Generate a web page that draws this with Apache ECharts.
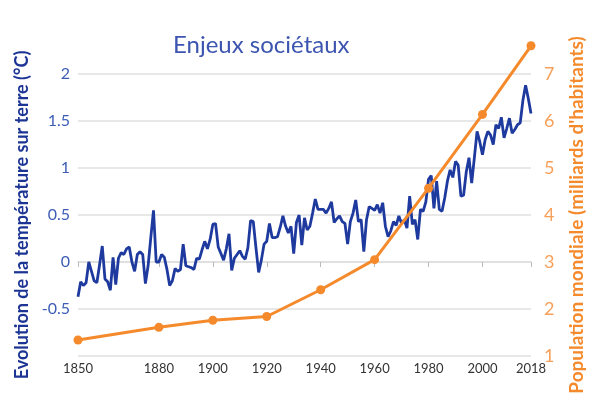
<!DOCTYPE html>
<html>
<head>
<meta charset="utf-8">
<script src="https://cdn.jsdelivr.net/npm/echarts@6/dist/echarts.min.js"></script>
<style>html,body{margin:0;padding:0;background:#fff}#c{width:600px;height:400px}</style>
</head>
<body>
<div id="c"></div>
<script>
const tempYears = [];
for (let y = 1850; y <= 2018; y++) tempYears.push(y);
const tempValues = [
  -0.37,-0.21,-0.25,-0.22,0.00,-0.10,-0.20,-0.22,-0.03,0.17,
  -0.18,-0.21,-0.30,0.05,-0.24,0.04,0.10,0.08,0.14,0.16,
  0.00,-0.10,0.08,0.11,0.08,-0.23,-0.04,0.26,0.55,0.00,
  0.00,0.08,0.05,-0.08,-0.25,-0.20,-0.07,-0.10,-0.08,0.19,
  -0.04,-0.05,-0.06,-0.08,0.04,0.03,0.13,0.22,0.14,0.24,
  0.40,0.41,0.16,0.09,0.02,0.14,0.30,-0.09,0.04,0.08,
  0.12,0.06,0.03,0.15,0.44,0.43,0.15,-0.11,0.02,0.19,
  0.22,0.41,0.26,0.26,0.27,0.37,0.49,0.38,0.31,0.38,
  0.09,0.42,0.50,0.18,0.47,0.34,0.38,0.52,0.67,0.56,
  0.56,0.56,0.52,0.57,0.64,0.42,0.46,0.49,0.43,0.41,
  0.19,0.43,0.52,0.66,0.43,0.45,0.11,0.45,0.59,0.57,
  0.55,0.61,0.52,0.63,0.38,0.27,0.33,0.43,0.39,0.49,
  0.41,0.45,0.36,0.70,0.40,0.45,0.24,0.56,0.54,0.64,
  0.88,0.92,0.57,0.86,0.56,0.54,0.68,0.86,0.98,0.90,
  1.07,1.03,0.70,0.71,0.96,1.11,0.84,1.11,1.39,1.28,
  1.14,1.30,1.39,1.35,1.25,1.46,1.42,1.54,1.32,1.42,
  1.53,1.37,1.41,1.46,1.48,1.72,1.88,1.74,1.58
];
const popYears = [1850, 1880, 1900, 1920, 1940, 1960, 1980, 2000, 2018];
const popValues = [1.34, 1.61, 1.76, 1.84, 2.41, 3.05, 4.57, 6.14, 7.6];
const xTickLabels = [1850, 1880, 1900, 1920, 1940, 1960, 1980, 2000, 2018];

const chart = echarts.init(document.getElementById('c'));
chart.setOption({
  animation: false,
  backgroundColor: '#fff',
  title: {
    text: 'Enjeux sociétaux',
    left: 168,
    top: 28,
    textStyle: { fontFamily: 'Lato', fontWeight: 'normal', fontSize: 24, color: '#3d55b0' }
  },
  grid: { left: 78, right: 69, top: 74, bottom: 44 },
  xAxis: {
    type: 'value',
    min: 1850,
    max: 2018,
    axisLine: { show: true, lineStyle: { color: '#dddddd', width: 1.5 } },
    axisTick: { show: true, customValues: xTickLabels, length: 5, lineStyle: { color: '#bbbbbb' } },
    axisLabel: {
      customValues: xTickLabels,
      formatter: v => String(v),
      color: '#333', fontFamily: 'Lato', fontSize: 13, margin: 6
    },
    splitLine: { show: false }
  },
  yAxis: [
    {
      type: 'value',
      min: -1, max: 2, interval: 0.5,
      name: 'Evolution de la température sur terre (°C)',
      nameLocation: 'middle', nameRotate: 90, nameGap: 44,
      nameTextStyle: { color: '#1c3493', fontWeight: 'bold', fontSize: 18, fontFamily: 'Lato' },
      axisLine: { show: false }, axisTick: { show: false },
      axisLabel: { showMinLabel: false, color: '#3d5db5', fontSize: 16, fontFamily: 'Lato', margin: 8 },
      splitLine: { lineStyle: { color: '#e0e0e0', width: 1.5 } }
    },
    {
      type: 'value',
      min: 1, max: 7, interval: 1,
      name: "Population mondiale (milliards d'habitants)",
      nameLocation: 'middle', nameRotate: 90, nameGap: 36,
      nameTextStyle: { color: '#f58a2c', fontWeight: 'bold', fontSize: 19, fontFamily: 'Lato' },
      axisLine: { show: false }, axisTick: { show: false },
      axisLabel: { color: '#f7a05a', fontSize: 18, fontFamily: 'Lato', margin: 13 },
      splitLine: { show: false }
    }
  ],
  series: [
    {
      type: 'line',
      yAxisIndex: 0,
      data: tempYears.map((y, i) => [y, tempValues[i]]),
      showSymbol: false,
      lineStyle: { color: '#1f3a9e', width: 2.8 },
      itemStyle: { color: '#1f3a9e' },
      z: 2
    },
    {
      type: 'line',
      yAxisIndex: 1,
      data: popYears.map((y, i) => [y, popValues[i]]),
      symbol: 'circle', symbolSize: 9,
      lineStyle: { color: '#f58a2c', width: 3 },
      itemStyle: { color: '#f58a2c' },
      clip: false,
      z: 3
    }
  ]
});
</script>
</body>
</html>
